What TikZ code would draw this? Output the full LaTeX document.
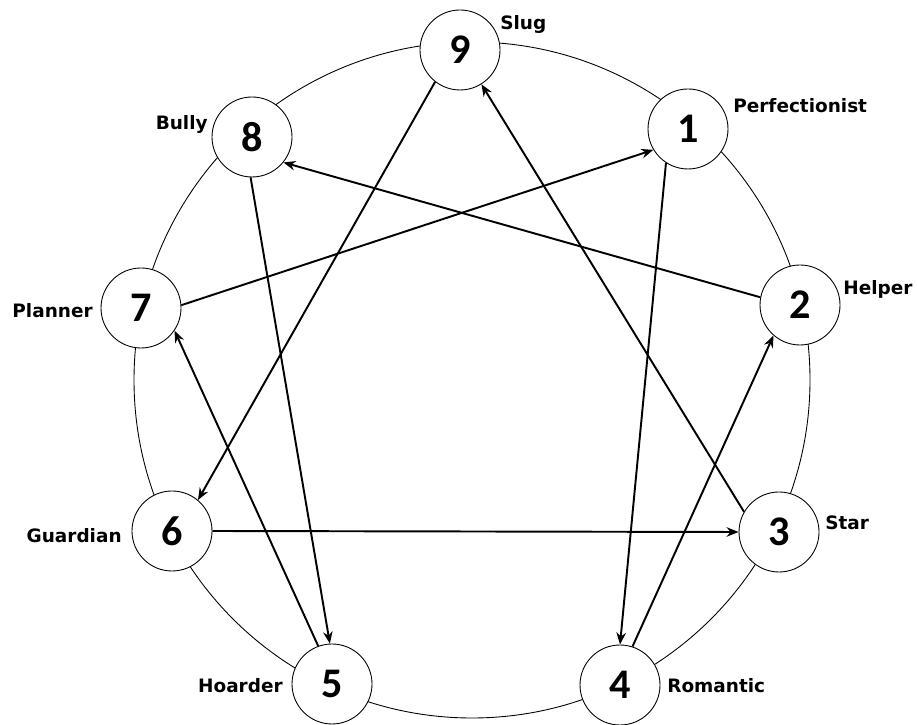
\documentclass[tikz,border=0pt]{standalone}
\usepackage{fontspec}
\newfontfamily\numfont{Carlito}
\newfontfamily\lblfont{DejaVu Sans}
\usepackage{tikz}
\usetikzlibrary{arrows.meta,calc,positioning}

\begin{document}
\begin{tikzpicture}[>={Stealth[length=2.4mm,width=1.9mm]},
  type/.style={draw,circle,fill=white,minimum size=1.6cm,inner sep=0pt,
    line width=0.5pt,font=\numfont\bfseries\fontsize{24}{24}\selectfont},
  tag/.style={inner sep=0pt,font=\lblfont\bfseries\fontsize{10.5}{12}\selectfont},
  link/.style={->,line width=1.1pt}]
  \useasboundingbox (0,0) rectangle (18.34,14.5);
  % The outer ring
  \draw[line width=0.5pt] (9.44,6.90) circle (6.76);
  % The nine types
  \node[type] (n9) at (9.20,13.50) {9};
  \node[type] (n1) at (13.76,11.92) {1};
  \node[type] (n2) at (16.00,8.40) {2};
  \node[type] (n3) at (15.58,3.86) {3};
  \node[type] (n4) at (12.40,0.80) {4};
  \node[type] (n5) at (6.64,0.82) {5};
  \node[type] (n6) at (3.44,3.88) {6};
  \node[type] (n7) at (2.82,8.34) {7};
  \node[type] (n8) at (5.04,11.76) {8};
  % Names
  \node[tag,anchor=base west] (t9) at (10.00,13.90) {Slug};
  \node[tag,anchor=base west] (t1) at (14.66,12.24) {Perfectionist};
  \node[tag,anchor=base west] (t2) at (16.86,8.60) {Helper};
  \node[tag,anchor=base west] (t3) at (16.50,3.90) {Star};
  \node[tag,anchor=base west] (t4) at (13.34,0.64) {Romantic};
  \node[tag,anchor=base east] (t5) at (5.66,0.64) {Hoarder};
  \node[tag,anchor=base east] (t6) at (2.44,3.64) {Guardian};
  \node[tag,anchor=base east] (t7) at (1.86,8.14) {Planner};
  \node[tag,anchor=base east] (t8) at (4.16,11.90) {Bully};
  % Arrows
  \draw[link] (n7.4) -- (n1.211);
  \draw[link] (n2.169) -- (n8.321);
  \draw[link] (n9.232) -- (n6.50);
  \draw[link] (n8.268) -- (n5.93);
  \draw[link] (n5.110) -- (n7.326);
  \draw[link] (n6.0) -- (n3.180);
  \draw[link] (n3.150) -- (n9.302);
  \draw[link] (n1.237) -- (n4.90);
  \draw[link] (n4.72) -- (n2.229);
\end{tikzpicture}
\end{document}
